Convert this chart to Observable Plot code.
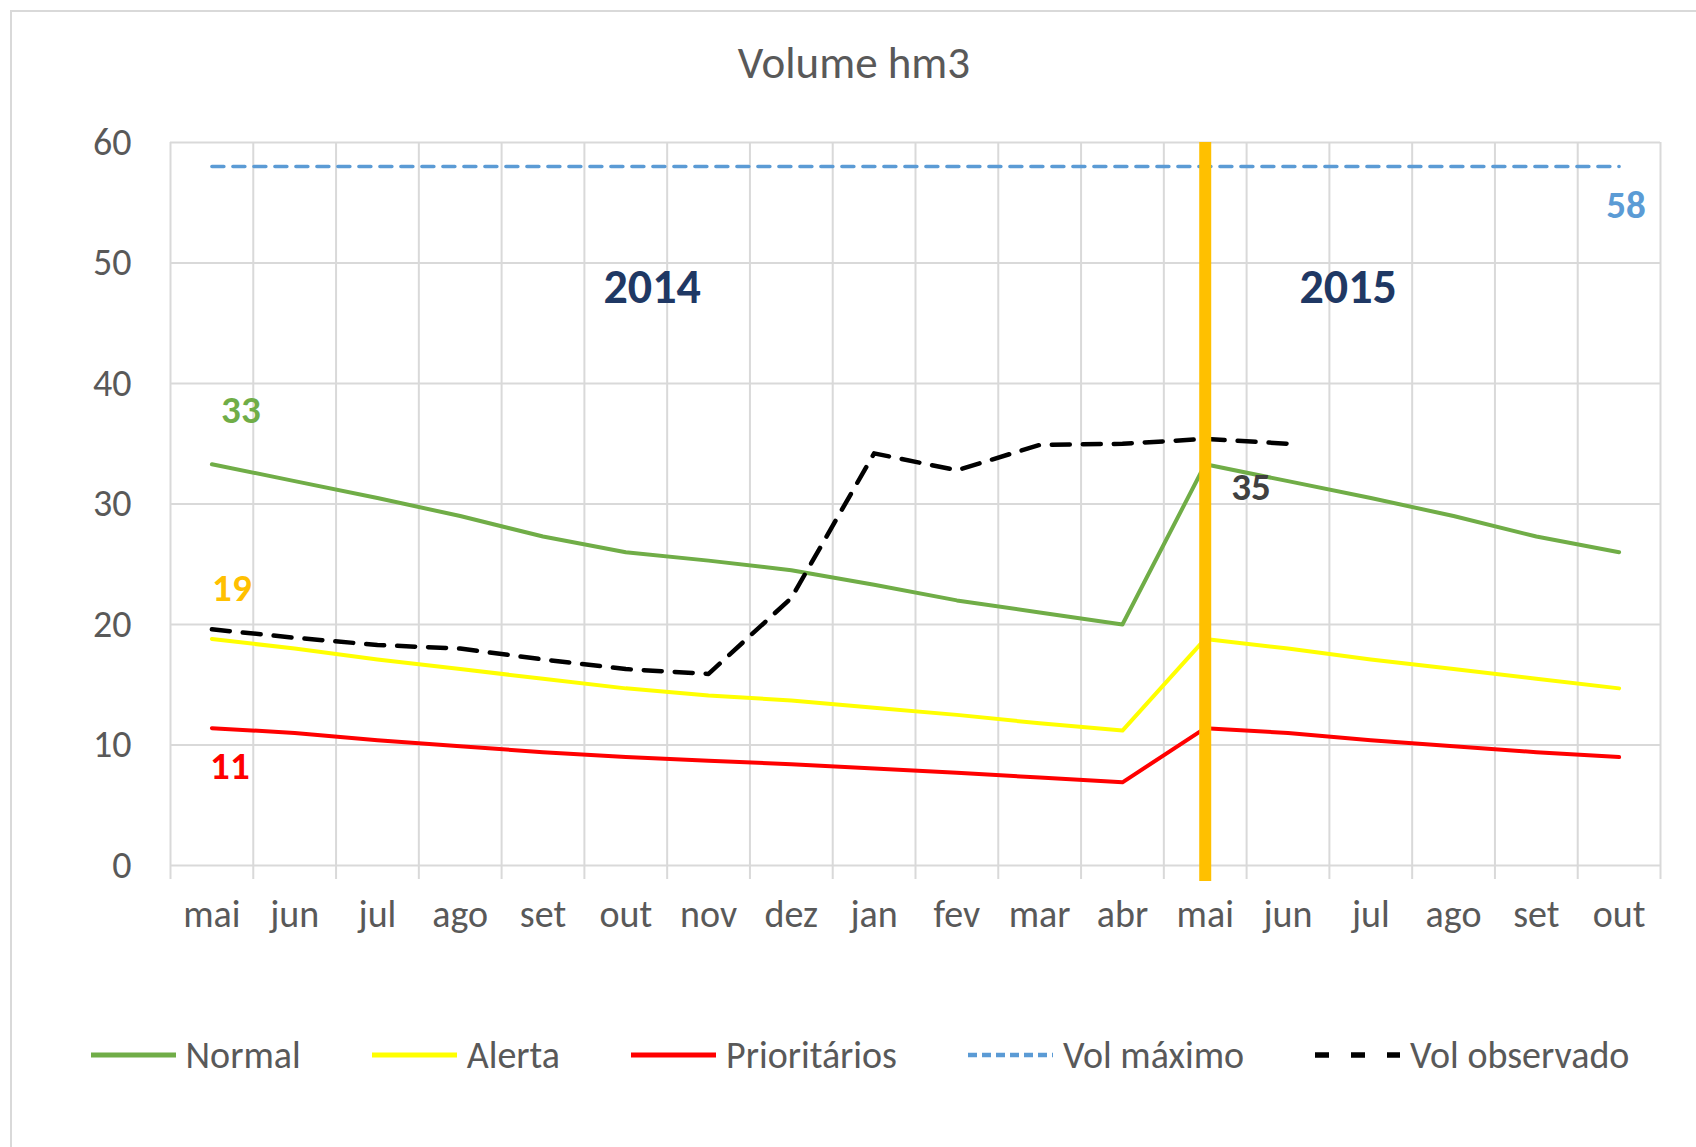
<!DOCTYPE html>
<html>
<head>
<meta charset="utf-8">
<script src="https://cdn.jsdelivr.net/npm/d3@7"></script>
<script src="https://cdn.jsdelivr.net/npm/@observablehq/plot@0.6"></script>
<style>
  html, body { margin: 0; padding: 0; background: #fff; }
  body { width: 1696px; height: 1147px; position: relative; overflow: hidden; font-family: Carlito, Calibri, Lato, "Noto Sans", sans-serif; }
  #frame { position: absolute; left: 10px; top: 10px; width: 1720px; height: 1180px; border: 2px solid #D9D9D9; box-sizing: border-box; }
  #title { position: absolute; left: 0; top: 33px; width: 1708px; height: 60px; line-height: 60px; text-align: center; font-size: 45px; color: #595959; }
  #chart { position: absolute; left: 0; top: 100px; }
  #legend { position: absolute; left: 0; top: 1025px; width: 1720px; height: 60px; display: flex; justify-content: center; align-items: center; gap: 71px; font-size: 38px; color: #595959; }
  .item { display: flex; align-items: center; gap: 10px; }
</style>
</head>
<body>
<div id="frame"></div>
<div id="title">Volume hm3</div>
<div id="chart"></div>
<div id="legend"></div>
<script>
// ---- data ----
const months = ["mai","jun","jul","ago","set","out","nov","dez","jan","fev","mar","abr","mai","jun","jul","ago","set","out"];
const normal = [33.3, 31.9, 30.5, 29.0, 27.3, 26.0, 25.3, 24.5, 23.3, 22.0, 21.0, 20.0, 33.3, 31.9, 30.5, 29.0, 27.3, 26.0];
const alerta = [18.8, 18.0, 17.1, 16.3, 15.5, 14.7, 14.1, 13.7, 13.1, 12.5, 11.8, 11.2, 18.8, 18.0, 17.1, 16.3, 15.5, 14.7];
const prioritarios = [11.4, 11.0, 10.4, 9.9, 9.4, 9.0, 8.7, 8.4, 8.05, 7.7, 7.3, 6.9, 11.4, 11.0, 10.4, 9.9, 9.4, 9.0];
const volMaximo = [58, 58, 58, 58, 58, 58, 58, 58, 58, 58, 58, 58, 58, 58, 58, 58, 58, 58];
const volObservado = [19.6, 18.9, 18.3, 18.0, 17.1, 16.3, 15.9, 22.2, 34.2, 32.8, 34.9, 35.0, 35.4, 35.0, null, null, null, null];
const yTicks = [0, 10, 20, 30, 40, 50, 60];
const periods = [{label: "2014", start: 0, end: 11}, {label: "2015", start: 12, end: 17}];
const separatorIndex = 12; // start of 2015 period (mai)

const series = [
  {name: "Normal", key: "normal", color: "#70AD47", width: 4, dash: null},
  {name: "Alerta", key: "alerta", color: "#FFFF00", width: 4, dash: null},
  {name: "Prioritários", key: "prioritarios", color: "#FF0000", width: 4, dash: null},
  {name: "Vol máximo", key: "volMaximo", color: "#5B9BD5", width: 3.5, dash: "12,9"},
  {name: "Vol observado", key: "volObservado", color: "#000000", width: 4.5, dash: "18,13"}
];

const rows = months.map((m, i) => ({
  i, m,
  normal: normal[i], alerta: alerta[i], prioritarios: prioritarios[i],
  volMaximo: volMaximo[i], volObservado: volObservado[i]
}));
const boundaries = d3.range(months.length + 1).map(k => k - 0.5);
const labelFont = 39;
const fontStack = 'Carlito, Calibri, Lato, "Noto Sans", sans-serif';

const marks = [
  Plot.ruleY(yTicks, {stroke: "#D9D9D9", strokeWidth: 2}),
  Plot.ruleX(boundaries, {stroke: "#D9D9D9", strokeWidth: 2, insetBottom: -14}),
  ...series.map(s => Plot.lineY(rows.filter(d => d[s.key] != null), {
    x: "i", y: s.key, stroke: s.color, strokeWidth: s.width,
    strokeDasharray: s.dash || undefined, strokeLinejoin: "round"
  })),
  Plot.ruleX([separatorIndex], {stroke: "#FFC000", strokeWidth: 12, insetBottom: -16}),
  // data labels
  Plot.text([rows[0]], {x: "i", y: "normal", text: d => String(Math.round(d.normal)), dx: 29, dy: -54, fill: "#70AD47", fontWeight: "bold", fontSize: labelFont}),
  Plot.text([rows[0]], {x: "i", y: "alerta", text: d => String(Math.round(d.alerta)), dx: 20, dy: -50, fill: "#FFC000", fontWeight: "bold", fontSize: labelFont}),
  Plot.text([rows[0]], {x: "i", y: "prioritarios", text: d => String(Math.round(d.prioritarios)), dx: 18, dy: 38, fill: "#FF0000", fontWeight: "bold", fontSize: labelFont}),
  Plot.text([rows[13]], {x: "i", y: "volObservado", text: d => String(Math.round(d.volObservado)), dx: -37, dy: 44, fill: "#404040", fontWeight: "bold", fontSize: labelFont}),
  Plot.text([rows[17]], {x: "i", y: "volMaximo", text: d => String(Math.round(d.volMaximo)), dx: 7, dy: 39, fill: "#5B9BD5", fontWeight: "bold", fontSize: labelFont}),
  // period labels
  Plot.text([periods[0]], {x: d => (d.start + d.end) / 2, frameAnchor: "top", dy: 126, text: "label", dx: -15, fill: "#1F3864", fontWeight: "bold", fontSize: 48}),
  Plot.text([periods[1]], {x: d => (d.start + d.end) / 2, frameAnchor: "top", dy: 126, text: "label", dx: -64, fill: "#1F3864", fontWeight: "bold", fontSize: 48})
];

const chart = Plot.plot({
  width: 1696,
  height: 860,
  marginLeft: 170,
  marginRight: 36,
  marginTop: 42,
  marginBottom: 95,
  style: {fontFamily: fontStack, fontSize: "38px", color: "#595959", background: "transparent", overflow: "visible"},
  x: {type: "linear", domain: [-0.5, months.length - 0.5], ticks: d3.range(months.length), tickFormat: i => months[i], tickSize: 0, tickPadding: 35, label: null},
  y: {domain: [0, 60], ticks: yTicks, tickSize: 0, tickPadding: 39, label: null},
  marks
});
document.getElementById("chart").appendChild(chart);

// legend
const legend = document.getElementById("legend");
for (const s of series) {
  const item = document.createElement("div");
  item.className = "item";
  const sw = document.createElementNS("http://www.w3.org/2000/svg", "svg");
  sw.setAttribute("width", 85); sw.setAttribute("height", 12);
  const ln = document.createElementNS("http://www.w3.org/2000/svg", "line");
  ln.setAttribute("x1", 0); ln.setAttribute("x2", 85); ln.setAttribute("y1", 6); ln.setAttribute("y2", 6);
  ln.setAttribute("stroke", s.color); ln.setAttribute("stroke-width", s.width + 1);
  if (s.dash) ln.setAttribute("stroke-dasharray", s.key === "volObservado" ? "14,22" : "9,5");
  sw.appendChild(ln);
  const tx = document.createElement("span");
  tx.textContent = s.name;
  item.appendChild(sw); item.appendChild(tx);
  legend.appendChild(item);
}
</script>
</body>
</html>
